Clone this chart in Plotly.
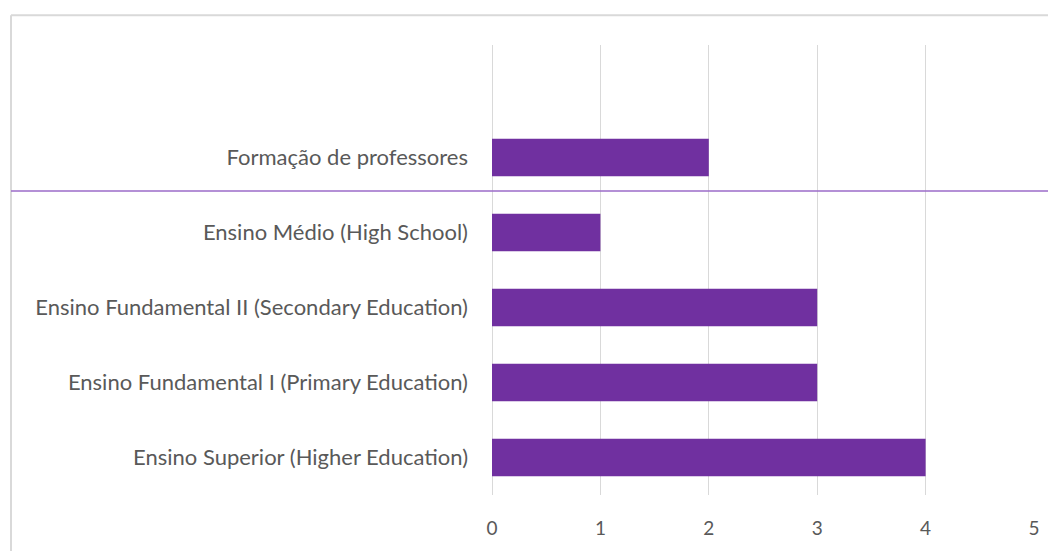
import plotly.graph_objects as go

categories = [
    "Ensino Superior (Higher Education)",
    "Ensino Fundamental I (Primary Education)",
    "Ensino Fundamental II (Secondary Education)",
    "Ensino Médio (High School)",
    "Formação de professores",
]
values = [4, 3, 3, 1, 2]
tick_vals = [0, 1, 2, 3, 4, 5]

OFF = 8  # page body margin
W, H = 1056 - OFF, 551 - OFF
L, R, T, B = 492 - OFF, 22, 45 - OFF, 53
pw, ph = W - L - R, H - T - B

def px(x):
    return (x - OFF - L) / pw

def py(y):
    return (H - B - (y - OFF)) / ph

fig = go.Figure(go.Bar(
    y=categories, x=values, orientation="h",
    marker=dict(color="#7030a0", line=dict(width=0)),
    width=0.5,
))

fig.update_layout(
    width=W, height=H,
    margin=dict(l=L, r=R, t=T, b=B),
    paper_bgcolor="white", plot_bgcolor="white",
    showlegend=False,
    font=dict(family="Lato", size=22, color="#595959"),
    xaxis=dict(range=[0, 5], tickvals=tick_vals, showgrid=True, gridcolor="#d9d9d9",
               gridwidth=1, zeroline=True, zerolinecolor="#d9d9d9", zerolinewidth=1,
               showline=False, ticks="", ticklabelstandoff=20,
               tickfont=dict(size=19, color="#595959")),
    yaxis=dict(type="category", categoryorder="array", categoryarray=categories + [" "],
               range=[-0.5, 5.5], showgrid=False, zeroline=False, showline=False,
               ticks="", ticklabelstandoff=23,
               tickfont=dict(size=22, color="#595959")),
    shapes=[
        dict(type="line", xref="paper", yref="paper", x0=px(11), x1=px(1060),
             y0=py(15), y1=py(15), line=dict(color="#d9d9d9", width=2)),
        dict(type="line", xref="paper", yref="paper", x0=px(11), x1=px(11),
             y0=py(15), y1=py(556), line=dict(color="#d9d9d9", width=2)),
        dict(type="line", xref="paper", yref="paper", x0=px(11), x1=px(1060),
             y0=py(192), y1=py(192), line=dict(color="#9b6bc9", width=1.5)),
    ],
)

fig.write_html("out.html")
